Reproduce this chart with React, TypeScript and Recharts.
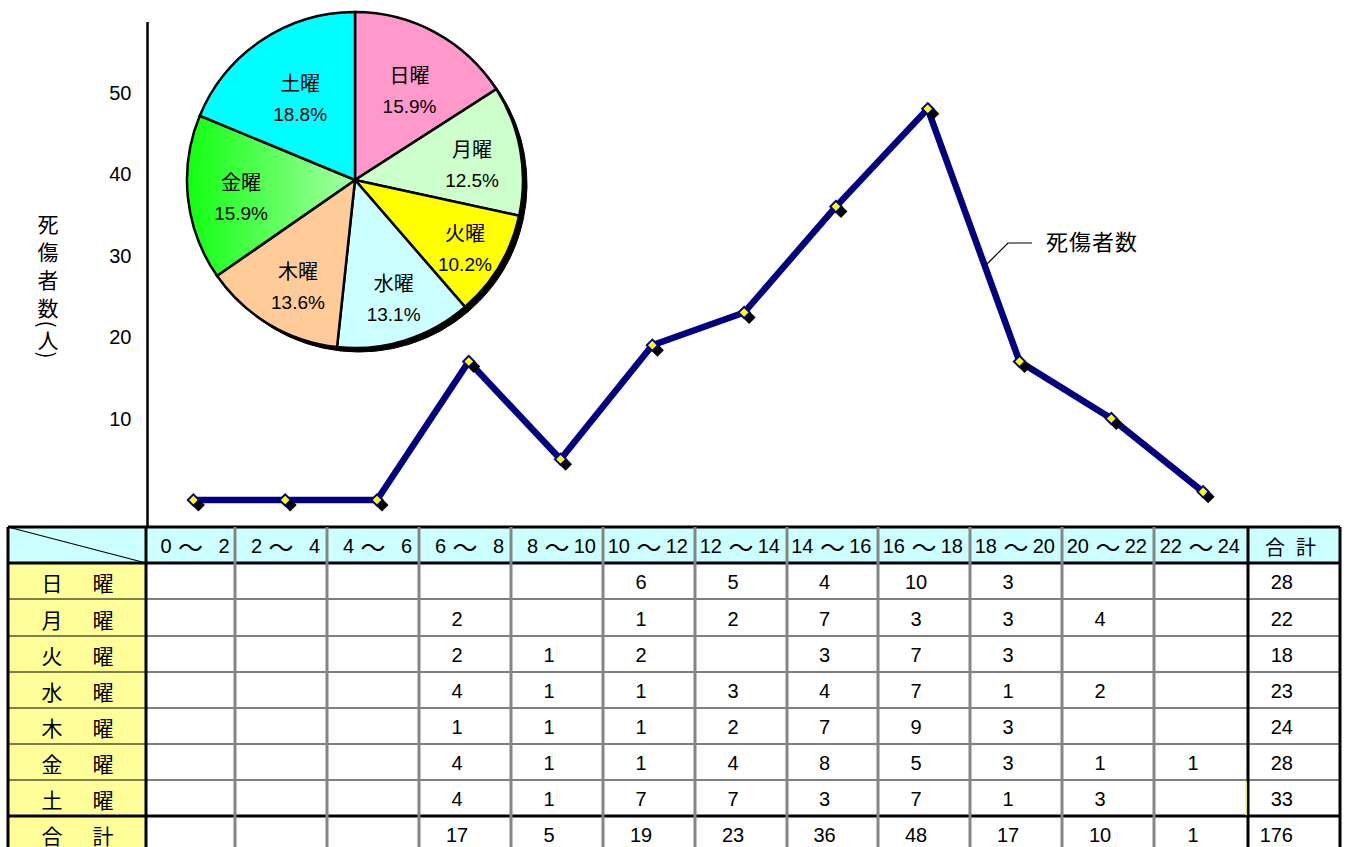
import React from 'react';
import { LineChart, Line, XAxis, YAxis, PieChart, Pie, Cell } from 'recharts';

// ---------- data ----------
const hourFrom = ['0', '2', '4', '6', '8', '10', '12', '14', '16', '18', '20', '22'];
const hourTo = ['2', '4', '6', '8', '10', '12', '14', '16', '18', '20', '22', '24'];
const hourTotals = [0, 0, 0, 17, 5, 19, 23, 36, 48, 17, 10, 1];
const grandTotal = 176;
const dayNames = ['日', '月', '火', '水', '木', '金', '土'];
const dayTotals = [28, 22, 18, 23, 24, 28, 33];
const sunRow = [null, null, null, null, null, 6, 5, 4, 10, 3, null, null];
const monRow = [null, null, null, 2, null, 1, 2, 7, 3, 3, 4, null];
const tueRow = [null, null, null, 2, 1, 2, null, 3, 7, 3, null, null];
const wedRow = [null, null, null, 4, 1, 1, 3, 4, 7, 1, 2, null];
const thuRow = [null, null, null, 1, 1, 1, 2, 7, 9, 3, null, null];
const friRow = [null, null, null, 4, 1, 1, 4, 8, 5, 3, 1, 1];
const satRow = [null, null, null, 4, 1, 7, 7, 3, 7, 1, 3, null];
const dayRows = [sunRow, monRow, tueRow, wedRow, thuRow, friRow, satRow];
const yTicks = [10, 20, 30, 40, 50];
const seriesName = '死傷者数';
const axisTitleMain = ['死', '傷', '者', '数'];
const axisTitleUnit = '人';
const weekSuffix = '曜';
const totalWord = ['合', '計'];

// ---------- styles ----------
const FONT = "'Liberation Sans', 'Noto Sans CJK JP', sans-serif";
const JFONT = "'Noto Sans CJK JP', sans-serif";
const sliceColors = ['#FF99CC', '#CCFFCC', '#FFFF00', '#CCFFFF', '#FFCC99', 'url(#kinGrad)', '#00FFFF'];
const labelRadiusFactor = [0.64, 0.69, 0.74, 0.71, 0.7, 0.7, 0.62];
const colEdges = [146, 235, 327, 419, 511, 603, 695, 787, 878, 970, 1062, 1154, 1248, 1340];
const rowEdges = [527, 563, 599, 636, 672, 708, 744, 780, 816, 852];

const lineData = hourFrom.map((f, i) => ({ hour: f + '～' + hourTo[i], value: hourTotals[i] }));
const pieData = dayNames.map((d, i) => ({ name: d + weekSuffix, value: dayTotals[i] }));

const diamond = (cx: number, cy: number, r: number) =>
  `M${cx},${cy - r} L${cx + r},${cy} L${cx},${cy + r} L${cx - r},${cy} Z`;

const ShadowDot = (p: any) => {
  if (p.cx == null || p.cy == null) return <g key={`s${p.index}`} />;
  return <path key={`s${p.index}`} d={diamond(p.cx + 5, p.cy + 5, 6.5)} fill="#000" />;
};

const MarkerDot = (p: any) => {
  if (p.cx == null || p.cy == null) return <g key={`m${p.index}`} />;
  return (
    <g key={`m${p.index}`}>
      <path d={diamond(p.cx, p.cy, 7)} fill="#000080" />
      <path d={diamond(p.cx, p.cy, 4.3)} fill="#FFFF00" />
    </g>
  );
};

const renderPieLabel = (p: any) => {
  const RAD = Math.PI / 180;
  const r = p.outerRadius * labelRadiusFactor[p.index];
  const x = p.cx + r * Math.cos(-p.midAngle * RAD) + 3;
  const y = p.cy + r * Math.sin(-p.midAngle * RAD) + 4;
  const pct = (Math.round((dayTotals[p.index] * 1000) / grandTotal) / 10).toFixed(1) + '%';
  return (
    <g key={`pl${p.index}`}>
      <text x={x} y={y - 15} textAnchor="middle" dominantBaseline="central" fontSize={20} fontFamily={JFONT} fill="#000">
        {pieData[p.index].name}
      </text>
      <text x={x} y={y + 17} textAnchor="middle" dominantBaseline="central" fontSize={19} fontFamily={FONT} fill="#000">
        {pct}
      </text>
    </g>
  );
};

const Table = () => {
  const lines: React.ReactNode[] = [];
  const texts: React.ReactNode[] = [];
  const left = 8;
  const right = 1340;
  const top = rowEdges[0];
  const bottom = 852;
  rowEdges.forEach((y, i) => {
    const thick = i === 0 || i === 1 || i === 8;
    lines.push(
      <line key={`h${i}`} x1={left} x2={right} y1={y} y2={y} stroke="#000" strokeWidth={thick ? 3 : 1.2} />
    );
  });
  colEdges.forEach((x, i) => {
    const black = i === 0 || i === colEdges.length - 2 || i === colEdges.length - 1;
    lines.push(
      <line key={`v${i}`} x1={x} x2={x} y1={top} y2={bottom} stroke={black ? '#000' : '#858585'} strokeWidth={3} />
    );
  });
  lines.push(<line key="vl" x1={left} x2={left} y1={top} y2={bottom} stroke="#000" strokeWidth={3} />);
  lines.push(<line key="diag" x1={left} y1={top} x2={colEdges[0]} y2={rowEdges[1]} stroke="#000" strokeWidth={1.2} />);
  lines.push(<rect key="yl" x={1245.3} y={rowEdges[7] + 1} width={1.6} height={rowEdges[8] - rowEdges[7] - 2} fill="#FFFF00" />);

  const hy = (rowEdges[0] + rowEdges[1]) / 2 + 1;
  hourFrom.forEach((f, i) => {
    const c = (colEdges[i] + colEdges[i + 1]) / 2;
    texts.push(
      <g key={`hd${i}`} fontSize={20} fontFamily={FONT} fill="#000">
        <text x={c - 19} y={hy} textAnchor="end" dominantBaseline="central">{f}</text>
        <text x={c} y={hy} textAnchor="middle" dominantBaseline="central" fontFamily={JFONT} fontSize={25}>～</text>
        <text x={c + 39} y={hy} textAnchor="end" dominantBaseline="central">{hourTo[i]}</text>
      </g>
    );
  });
  texts.push(
    <g key="hdt" fontSize={20} fontFamily={JFONT} fill="#000">
      <text x={1275} y={hy} textAnchor="middle" dominantBaseline="central">{totalWord[0]}</text>
      <text x={1306} y={hy} textAnchor="middle" dominantBaseline="central">{totalWord[1]}</text>
    </g>
  );
  const allRows = [...dayRows, hourTotals.map((v) => (v ? v : null))];
  const rowTotals = [...dayTotals, grandTotal];
  allRows.forEach((row, r) => {
    const y = (rowEdges[r + 1] + rowEdges[r + 2]) / 2 + 1;
    const first = r < dayNames.length ? dayNames[r] : totalWord[0];
    const second = r < dayNames.length ? weekSuffix : totalWord[1];
    texts.push(
      <g key={`lab${r}`} fontSize={21} fontFamily={JFONT} fill="#000">
        <text x={52} y={y} textAnchor="middle" dominantBaseline="central">{first}</text>
        <text x={103} y={y} textAnchor="middle" dominantBaseline="central">{second}</text>
      </g>
    );
    row.forEach((v, i) => {
      if (v == null) return;
      const c = (colEdges[i] + colEdges[i + 1]) / 2 - 8;
      texts.push(
        <text key={`c${r}-${i}`} x={c} y={y} textAnchor="middle" dominantBaseline="central" fontSize={20} fontFamily={FONT} fill="#000">
          {v}
        </text>
      );
    });
    texts.push(
      <text key={`t${r}`} x={1293} y={y} textAnchor="end" dominantBaseline="central" fontSize={20} fontFamily={FONT} fill="#000">
        {rowTotals[r]}
      </text>
    );
  });

  return (
    <svg width={1348} height={847} style={{ position: 'absolute', left: 0, top: 0 }}>
      <rect x={left} y={top} width={right - left} height={rowEdges[1] - top} fill="#CCFFFF" />
      <rect x={left} y={rowEdges[1]} width={colEdges[0] - left} height={bottom - rowEdges[1]} fill="#FFFF99" />
      {lines}
      {texts}
    </svg>
  );
};

const Overlay = () => (
  <svg width={1348} height={847} style={{ position: 'absolute', left: 0, top: 0 }}>
    <defs>
      <linearGradient id="kinGrad" x1="0" y1="0" x2="1" y2="0">
        <stop offset="0" stopColor="#11FF11" />
        <stop offset="1" stopColor="#A6FFA6" />
      </linearGradient>
    </defs>
    <g fontSize={21} fontFamily={JFONT} fill="#000">
      {axisTitleMain.map((ch, i) => (
        <text key={`at${i}`} x={48} y={223 + i * 28} textAnchor="middle" dominantBaseline="central">{ch}</text>
      ))}
      <text x={48} y={324} textAnchor="middle" dominantBaseline="central" transform="rotate(90 48 324)">(</text>
      <text x={48} y={339} textAnchor="middle" dominantBaseline="central">{axisTitleUnit}</text>
      <text x={48} y={355} textAnchor="middle" dominantBaseline="central" transform="rotate(90 48 355)">)</text>
    </g>
    <polyline points="987,264 1008,243 1032,243" fill="none" stroke="#000" strokeWidth={1.2} />
    <text x={1046} y={240} dominantBaseline="central" fontSize={22} fontFamily={JFONT} letterSpacing={1} fill="#000">
      {seriesName}
    </text>
  </svg>
);

export default function App() {
  return (
    <div style={{ position: 'absolute', left: 0, top: 0, width: 1348, height: 847, overflow: 'hidden', background: '#fff' }}>
      <div style={{ position: 'absolute', left: 0, top: 0 }}>
        <LineChart width={1348} height={847} data={lineData} margin={{ top: 22, right: 99, bottom: 320, left: 87.5 }}>
          <XAxis dataKey="hour" hide padding={{ left: 45.9, right: 45.9 }} />
          <YAxis
            type="number"
            domain={[-3.31, 58.65]}
            ticks={yTicks}
            width={60}
            tickLine={false}
            tickSize={0}
            tickMargin={16}
            axisLine={{ stroke: '#000', strokeWidth: 2.5 }}
            tick={{ fill: '#000', fontSize: 20, fontFamily: FONT }}
            allowDataOverflow
          />
          <Line dataKey="value" stroke="none" dot={ShadowDot} activeDot={false} isAnimationActive={false} legendType="none" />
          <Line dataKey="value" name={seriesName} stroke="#000080" strokeWidth={6.5} dot={MarkerDot} activeDot={false} isAnimationActive={false} />
        </LineChart>
      </div>
      <Overlay />
      <div style={{ position: 'absolute', left: 0, top: 0 }}>
        <PieChart width={600} height={380} margin={{ top: 0, right: 0, bottom: 0, left: 0 }}>
          <Pie
            data={pieData}
            dataKey="value"
            cx={359}
            cy={184}
            outerRadius={168}
            startAngle={90}
            endAngle={-270}
            fill="#000"
            stroke="#000"
            label={false}
            labelLine={false}
            isAnimationActive={false}
          />
          <Pie
            data={pieData}
            dataKey="value"
            cx={355}
            cy={180}
            outerRadius={168}
            startAngle={90}
            endAngle={-270}
            stroke="#000"
            strokeWidth={2.5}
            label={renderPieLabel}
            labelLine={false}
            isAnimationActive={false}
          >
            {pieData.map((d, i) => (
              <Cell key={d.name} fill={sliceColors[i]} />
            ))}
          </Pie>
        </PieChart>
      </div>
      <Table />
    </div>
  );
}
